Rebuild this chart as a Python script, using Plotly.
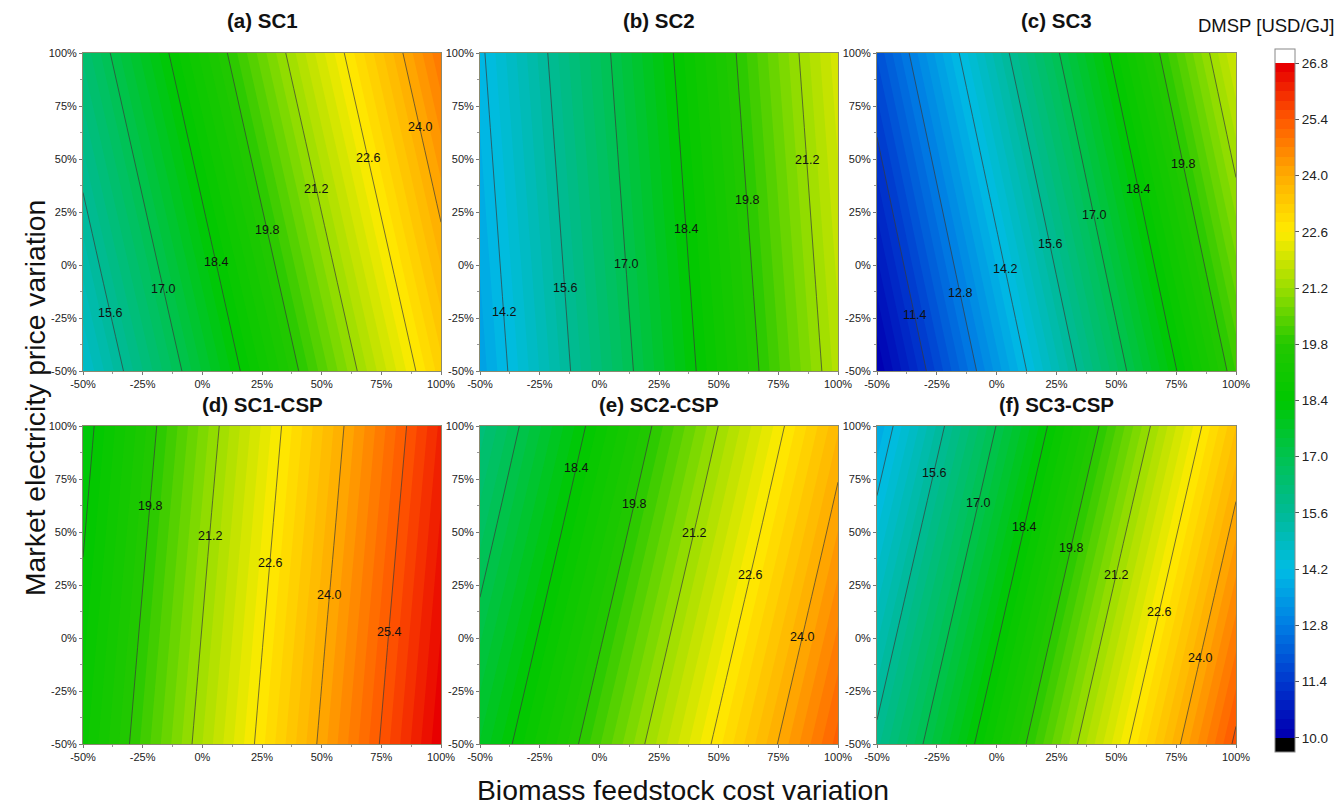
import numpy as np
import plotly.graph_objects as go

W, H = 1339, 807

# ---------------- data ----------------
# grid of variations [%]
biomass_cost_var = [-50, 0, 50, 100]       # x
electricity_price_var = [-50, 0, 50, 100]  # y

# DMSP [USD/GJ]; rows follow electricity_price_var, columns follow biomass_cost_var
dmsp_sc1 = [[14.63, 17.49, 20.35, 23.20],
            [15.21, 18.06, 20.92, 23.77],
            [15.78, 18.63, 21.49, 24.34],
            [16.35, 19.20, 22.06, 24.91]]
dmsp_sc2 = [[13.58, 16.24, 18.90, 21.56],
            [13.75, 16.41, 19.07, 21.73],
            [13.92, 16.58, 19.24, 21.90],
            [14.09, 16.75, 19.41, 22.07]]
dmsp_sc3 = [[10.02, 13.36, 16.71, 20.05],
            [10.65, 13.99, 17.34, 20.68],
            [11.27, 14.62, 17.96, 21.31],
            [11.90, 15.25, 18.59, 21.94]]
dmsp_sc1_csp = [[18.76, 21.43, 24.11, 26.78],
                [18.56, 21.23, 23.91, 26.58],
                [18.35, 21.03, 23.70, 26.38],
                [18.15, 20.82, 23.50, 26.17]]
dmsp_sc2_csp = [[17.72, 20.24, 22.76, 25.28],
                [17.20, 19.72, 22.24, 24.76],
                [16.68, 19.20, 21.72, 24.24],
                [16.17, 18.69, 21.21, 23.73]]
dmsp_sc3_csp = [[15.75, 19.00, 22.26, 25.51],
                [15.09, 18.34, 21.60, 24.85],
                [14.43, 17.68, 20.94, 24.19],
                [13.76, 17.02, 20.27, 23.53]]

panel_titles = ["(a) SC1", "(b) SC2", "(c) SC3",
                "(d) SC1-CSP", "(e) SC2-CSP", "(f) SC3-CSP"]
panel_data = [dmsp_sc1, dmsp_sc2, dmsp_sc3, dmsp_sc1_csp, dmsp_sc2_csp, dmsp_sc3_csp]

axis_tick_vals = [-50, -25, 0, 25, 50, 75, 100]
axis_tick_text = ["-50%", "-25%", "0%", "25%", "50%", "75%", "100%"]
level_ticks = [10.0, 11.4, 12.8, 14.2, 15.6, 17.0, 18.4, 19.8, 21.2, 22.6, 24.0, 25.4, 26.8]

# contour labels: which level is labelled in each panel
label_levels = [
    [15.6, 17.0, 18.4, 19.8, 21.2, 22.6, 24.0],
    [14.2, 15.6, 17.0, 18.4, 19.8, 21.2],
    [11.4, 12.8, 14.2, 15.6, 17.0, 18.4, 19.8],
    [19.8, 21.2, 22.6, 24.0, 25.4],
    [18.4, 19.8, 21.2, 22.6, 24.0],
    [15.6, 17.0, 18.4, 19.8, 21.2, 22.6, 24.0],
]
# ---------------- layout / styling ----------------
# height (y) along each contour line where its label is placed
label_heights = [
    [-22.6, -11.2, 1.4, 16.4, 36.0, 50.5, 65.1],
    [-22.0, -11.0, 0.6, 16.8, 30.5, 49.4],
    [-23.7, -13.4, -2.0, 10.0, 23.7, 35.7, 47.8],
    [62.2, 48.0, 35.2, 20.3, 2.6],
    [80.2, 63.3, 49.6, 29.7, 0.4],
    [77.9, 63.8, 52.5, 42.6, 29.7, 12.1, -9.2],
]

z_lo, z_hi = 10.0, 26.8
fill_step = 1.4 / 6
line_step = 1.4
c_start = z_lo - fill_step          # one extra band each side -> black / white ends
c_end = z_hi + fill_step
dom_lo = c_start - fill_step / 2
dom_hi = c_end + fill_step / 2

stops = [
    (dom_lo, "rgb(0,0,0)"),
    (z_lo - 0.02, "rgb(0,0,0)"),
    (z_lo + fill_step / 2, "rgb(0,0,178)"),
    (11.4, "rgb(0,55,205)"),
    (12.8, "rgb(0,125,228)"),
    (14.2, "rgb(0,188,228)"),
    (15.6, "rgb(0,186,150)"),
    (17.0, "rgb(0,195,80)"),
    (18.4, "rgb(0,200,0)"),
    (19.8, "rgb(35,200,0)"),
    (21.2, "rgb(155,222,0)"),
    (22.6, "rgb(255,235,0)"),
    (24.0, "rgb(255,172,0)"),
    (25.4, "rgb(255,88,0)"),
    (z_hi - fill_step / 2, "rgb(232,0,0)"),
    (z_hi + 0.02, "rgb(232,0,0)"),
    (z_hi + 0.03, "rgb(255,255,255)"),
    (dom_hi, "rgb(255,255,255)"),
]
colorscale = [[(v - dom_lo) / (dom_hi - dom_lo), c] for v, c in stops]
colorscale[0][0] = 0.0
colorscale[-1][0] = 1.0

FONT = "Arial, Liberation Sans, sans-serif"

cols_px = [(83, 441), (480, 838), (877, 1236)]
rows_px = [(53, 371), (426, 744)]
title_offset = [33, 22]
cbar_px = (63, 738)   # pixel rows of 26.8 and 10.0 on the colour bar
px_per_unit = (cbar_px[1] - cbar_px[0]) / (z_hi - z_lo)
cbar_len = (dom_hi - dom_lo) * px_per_unit
cbar_mid = (cbar_px[0] + cbar_px[1]) / 2


def x_on_level(z, level, yv):
    """x where the (bilinearly interpolated) surface equals `level` at height yv."""
    za = np.asarray(z, dtype=float)
    row = np.array([np.interp(yv, electricity_price_var, za[:, j])
                    for j in range(za.shape[1])])
    for j in range(len(row) - 1):
        a, b = row[j], row[j + 1]
        if (a - level) * (b - level) <= 0 and a != b:
            xa_, xb_ = biomass_cost_var[j], biomass_cost_var[j + 1]
            return xa_ + (level - a) / (b - a) * (xb_ - xa_)
    return None


fig = go.Figure()
layout = dict(
    width=W, height=H,
    margin=dict(l=0, r=0, t=0, b=0, autoexpand=False),
    paper_bgcolor="white", plot_bgcolor="white",
    font=dict(family=FONT, color="#222"),
    showlegend=False,
    annotations=[],
)

for i, (title, z) in enumerate(zip(panel_titles, panel_data)):
    r, c = divmod(i, 3)
    x0, x1 = cols_px[c]
    y0, y1 = rows_px[r]
    n = i + 1
    xa = "x" if n == 1 else f"x{n}"
    ya = "y" if n == 1 else f"y{n}"
    fig.add_trace(go.Contour(
        x=biomass_cost_var, y=electricity_price_var, z=z,
        xaxis=xa, yaxis=ya,
        colorscale=colorscale,
        autocontour=False,
        contours=dict(start=c_start, end=c_end, size=fill_step, coloring="fill", showlines=False),
        line=dict(width=0),
        showscale=(i == 0),
        colorbar=dict(
            x=1275 / W, xanchor="left", thickness=20, thicknessmode="pixels",
            y=1 - cbar_mid / H, yanchor="middle", len=cbar_len / H, lenmode="fraction",
            outlinecolor="#888", outlinewidth=1,
            tickmode="array", tickvals=level_ticks,
            ticktext=[f"{v:.1f}" for v in level_ticks],
            ticks="outside", ticklen=4, tickcolor="#555",
            tickfont=dict(size=13.5, family=FONT, color="#222"),
            xpad=0, ypad=0,
        ),
        hoverinfo="skip",
    ))
    fig.add_trace(go.Contour(
        x=biomass_cost_var, y=electricity_price_var, z=z,
        xaxis=xa, yaxis=ya,
        autocontour=False,
        contours=dict(start=z_lo, end=z_hi, size=line_step, coloring="none",
                      showlabels=False),
        line=dict(color="#3a3a3a", width=0.7),
        showscale=False,
        hoverinfo="skip",
    ))
    for lev, yv in zip(label_levels[i], label_heights[i]):
        xv = x_on_level(z, lev, yv)
        if xv is None:
            continue
        layout["annotations"].append(dict(
            text=f"{lev:.1f}", xref=xa, yref=ya, x=xv, y=yv,
            showarrow=False, xanchor="center", yanchor="middle",
            font=dict(size=12.5, family=FONT, color="#111")))

    axcommon = dict(
        range=[-50, 100], showgrid=False, zeroline=False,
        showline=True, mirror=True, linecolor="#8a8a70", linewidth=1,
        tickmode="array", tickvals=axis_tick_vals, ticktext=axis_tick_text,
        ticks="outside", ticklen=3, tickcolor="#777",
        tickfont=dict(size=11, family=FONT, color="#222"),
        minor=dict(ticks="outside", ticklen=2, tickcolor="#999", dtick=12.5, tick0=-50),
    )
    layout["xaxis" if n == 1 else f"xaxis{n}"] = dict(
        domain=[x0 / W, x1 / W], anchor=ya, **axcommon)
    layout["yaxis" if n == 1 else f"yaxis{n}"] = dict(
        domain=[1 - y1 / H, 1 - y0 / H], anchor=xa, **axcommon)
    layout["annotations"].append(dict(
        text=f"<b>{title}</b>", xref="paper", yref="paper",
        x=(x0 + x1) / 2 / W, y=1 - (y0 - title_offset[r]) / H,
        xanchor="center", yanchor="middle",
        showarrow=False, font=dict(size=20.5, family=FONT, color="#111")))

layout["annotations"] += [
    dict(text="Market electricity price variation", xref="paper", yref="paper",
         x=35 / W, y=1 - 398 / H, textangle=-90, showarrow=False,
         xanchor="center", yanchor="middle", font=dict(size=28.3, family=FONT, color="#111")),
    dict(text="Biomass feedstock cost variation", xref="paper", yref="paper",
         x=683 / W, y=1 - 790 / H, showarrow=False,
         xanchor="center", yanchor="middle", font=dict(size=28.3, family=FONT, color="#111")),
    dict(text="DMSP [USD/GJ]", xref="paper", yref="paper",
         x=1336 / W, y=1 - 25 / H, showarrow=False,
         xanchor="right", yanchor="middle", font=dict(size=18.5, family=FONT, color="#111")),
]

fig.update_layout(**layout)
fig.write_html("out.html")
